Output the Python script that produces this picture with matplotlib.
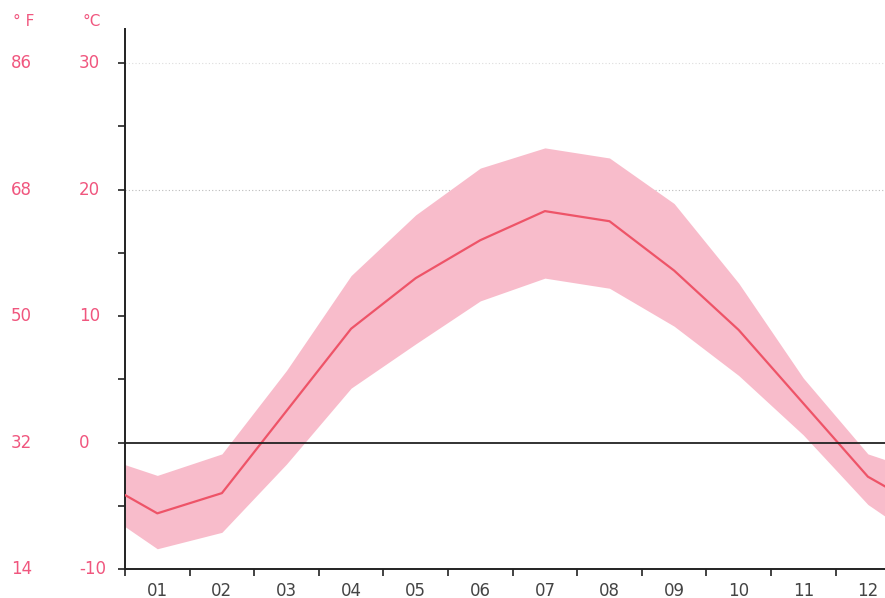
import numpy as np
import matplotlib
matplotlib.use("Agg")
import matplotlib.pyplot as plt

# monthly temperatures, deg C
months = ["01", "02", "03", "04", "05", "06", "07", "08", "09", "10", "11", "12"]
t_mean = [-5.6, -4.0, 2.5, 9.0, 13.0, 16.0, 18.3, 17.5, 13.6, 8.9, 3.1, -2.7]
t_high = [-2.6, -0.9, 5.7, 13.2, 18.0, 21.7, 23.3, 22.5, 18.9, 12.6, 5.1, -0.9]
t_low = [-8.4, -7.1, -1.7, 4.3, 7.8, 11.2, 13.0, 12.2, 9.2, 5.3, 0.6, -4.9]

c_ticks = [-10, 0, 10, 20, 30]
f_labels = ["14", "32", "50", "68", "86"]

pink = "#f0567e"
band = "#f8bccb"
line = "#ee5468"

fig = plt.figure(figsize=(8.85, 5.98), dpi=100)
ax = fig.add_axes([125 / 885, 29 / 598, 760 / 885, 540 / 598])

# wrap Dec/Jan around so the curve runs to both edges
x = np.arange(len(months)) + 0.5
xw = np.concatenate([[x[0] - 1], x, [x[-1] + 1]])
def wrap(v):
    return np.concatenate([[v[-1]], v, [v[0]]])

ax.fill_between(xw, wrap(t_low), wrap(t_high), color=band, lw=0, zorder=1)
ax.plot(xw, wrap(t_mean), color=line, lw=1.6, zorder=3)

ax.axhline(0, color="#222222", lw=1.3, zorder=4)
ax.axhline(20, color="#bbbbbb", lw=0.8, ls=(0, (1, 2)), zorder=0)
ax.axhline(30, color="#dddddd", lw=0.8, ls=(0, (1, 2)), zorder=0)

ax.set_xlim(0, 760 / 64.6)
ax.set_ylim(-10, 32.7)

ax.spines["top"].set_visible(False)
ax.spines["right"].set_visible(False)
for s in ["left", "bottom"]:
    ax.spines[s].set_color("#222222")
    ax.spines[s].set_linewidth(1.4)

ax.set_xticks(np.arange(0, 12))
ax.set_xticklabels([])
ax.set_xticks(x, minor=True)
ax.set_xticklabels(months, minor=True)
ax.tick_params(axis="x", which="major", length=5, width=1.2, color="#222222")
ax.tick_params(axis="x", which="minor", length=0, pad=9, labelsize=12,
               labelcolor="#444444")

ax.set_yticks(np.arange(-10, 31, 5))
ax.set_yticklabels([])
ax.tick_params(axis="y", length=5, width=1.2, color="#222222")

yt = ax.get_yaxis_transform()
for c, f in zip(c_ticks, f_labels):
    ax.text(-46 / 760, c, str(c), transform=yt, ha="left",
            va="center", fontsize=12, color=pink)
    ax.text(-114 / 760, c, f, transform=yt, ha="left", va="center",
            fontsize=12, color=pink)

fig.text(13 / 885, 1 - 22 / 598, "° F", ha="left", va="center", fontsize=11,
         color=pink)
fig.text(83 / 885, 1 - 22 / 598, "°C", ha="left", va="center", fontsize=11,
         color=pink)

fig.savefig("out.png", dpi=100)
